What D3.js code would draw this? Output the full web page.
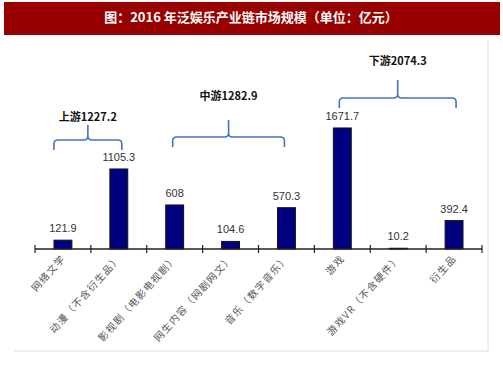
<!DOCTYPE html>
<html>
<head>
<meta charset="utf-8">
<script src="https://cdn.jsdelivr.net/npm/d3@7"></script>
<style>
 body { margin: 0; background: #fff; }
 svg text { font-family: Arial, "Liberation Sans", sans-serif; }
</style>
</head>
<body>
<svg id="chart" width="503" height="378"></svg>
<script>
 // data
 const categories = ["网络文学", "动漫（不含衍生品）", "影视剧（电影电视剧）", "网生内容（网剧网文）",
                     "音乐（数字音乐）", "游戏", "游戏VR（不含硬件）", "衍生品"];
 const values = [121.9, 1105.3, 608, 104.6, 570.3, 1671.7, 10.2, 392.4];
 const valueLabels = ["121.9", "1105.3", "608", "104.6", "570.3", "1671.7", "10.2", "392.4"];

 const groupNames = ["上游1227.2", "中游1282.9", "下游2074.3"];
 const groupStart = [0, 2, 5];
 const groupEnd = [1, 4, 7];

 const titleText = "图：2016 年泛娱乐产业链市场规模（单位：亿元）";

 let svg = d3.select("svg#chart");

 // title banner
 svg.append("rect").attr("x", 4).attr("y", 2).attr("width", 496).attr("height", 33).attr("fill", "#990000");
 svg.append("text")
     .attr("x", 251).attr("y", 22)
     .attr("text-anchor", "middle")
     .attr("fill", "#fff")
     .style("font-family", "'Noto Sans CJK SC', sans-serif")
     .style("font-weight", "bold")
     .style("font-size", "13px")
     .text(titleText);

 // light frame (right + bottom only)
 svg.append("path")
     .attr("d", "M488,40 V351 H14")
     .attr("fill", "none")
     .attr("stroke", "#e0e0e0")
     .attr("stroke-width", 1);

 let margin = {left: 35, right: 21, axisY: 249};
 const xScale = d3.scaleBand().domain(d3.range(categories.length))
                  .range([margin.left, 503 - margin.right]).paddingInner(0.68).paddingOuter(0.34);
 const yScale = d3.scaleLinear().domain([0, 2000]).range([margin.axisY, margin.axisY - 144.8]);

 let chartArea = svg.append("g");

 chartArea.selectAll("rect.bar")
     .data(values)
     .join("rect")
     .attr("class", "bar")
     .attr("x", (d, i) => xScale(i))
     .attr("width", xScale.bandwidth())
     .attr("y", d => yScale(d))
     .attr("height", d => yScale(0) - yScale(d))
     .attr("fill", "#000080")
     .attr("stroke", "#111")
     .attr("stroke-width", 1);

 chartArea.selectAll("text.val")
     .data(values)
     .join("text")
     .attr("class", "val")
     .attr("x", (d, i) => xScale(i) + xScale.bandwidth() / 2)
     .attr("y", d => yScale(d) - 8)
     .attr("text-anchor", "middle")
     .attr("fill", "#333")
     .style("font-size", "11px")
     .text((d, i) => valueLabels[i]);

 // x axis with ticks between categories
 let ticks = d3.range(categories.length + 1).map(i => margin.left + i * (503 - margin.right - margin.left) / categories.length);
 chartArea.append("line")
     .attr("x1", ticks[0]).attr("x2", ticks[ticks.length - 1])
     .attr("y1", margin.axisY).attr("y2", margin.axisY)
     .attr("stroke", "#222").attr("stroke-width", 1.5);
 chartArea.selectAll("line.tick")
     .data(ticks)
     .join("line")
     .attr("class", "tick")
     .attr("x1", d => d).attr("x2", d => d)
     .attr("y1", margin.axisY - 4).attr("y2", margin.axisY + 4)
     .attr("stroke", "#222").attr("stroke-width", 1.2);

 // category labels
 chartArea.selectAll("text.cat")
     .data(categories)
     .join("text")
     .attr("class", "cat")
     .attr("transform", (d, i) => `translate(${xScale(i) + xScale.bandwidth() / 2 + 3},${margin.axisY + 10}) rotate(-48)`)
     .attr("text-anchor", "end")
     .attr("fill", "#555")
     .style("font-family", "'Noto Sans CJK SC', sans-serif")
     .style("font-size", "10px")
     .style("letter-spacing", "1.2px")
     .text(d => d);

 // brackets
 const bracketY = [140, 137, 98];
 const bracketTop = [125, 120, 80];
 const bracketPad = [[-9, 3], [-2, -2], [-3, 2]];
 const labelY = [121, 100, 65];
 let brackets = svg.append("g");
 groupNames.forEach((name, k) => {
     let x0 = xScale(groupStart[k]) + xScale.bandwidth() / 2 + bracketPad[k][0];
     let x1 = xScale(groupEnd[k]) + xScale.bandwidth() / 2 + bracketPad[k][1];
     let xm = (x0 + x1) / 2;
     let y = bracketY[k];
     let r = 4;
     let p = `M${x0},${y + 10} V${y + r} Q${x0},${y} ${x0 + r},${y} H${xm - r} Q${xm},${y} ${xm},${y - r} V${bracketTop[k]}` +
             ` M${xm},${y - r} Q${xm},${y} ${xm + r},${y} H${x1 - r} Q${x1},${y} ${x1},${y + r} V${y + 10}`;
     brackets.append("path").attr("d", p)
         .attr("fill", "none").attr("stroke", "#4472c4").attr("stroke-width", 1.6);
     brackets.append("text")
         .attr("x", xm).attr("y", labelY[k])
         .attr("text-anchor", "middle")
         .attr("fill", "#111")
         .style("font-family", "'Noto Sans CJK SC', sans-serif")
         .style("font-weight", "bold")
         .style("font-size", "11px")
         .text(name);
 });
</script>
</body>
</html>
